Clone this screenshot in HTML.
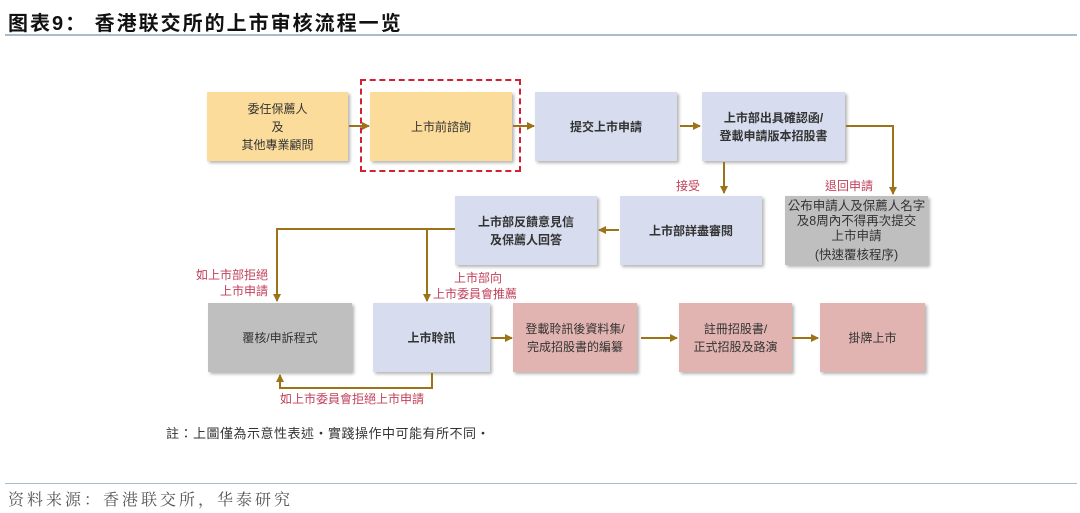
<!DOCTYPE html>
<html><head><meta charset="utf-8"><style>
body{margin:0;width:1080px;height:513px;background:#fff;position:relative;overflow:hidden;font-family:"Liberation Sans","Noto Sans CJK TC",sans-serif;}
.b{position:absolute;display:flex;align-items:center;justify-content:center;text-align:center;font-size:12px;line-height:18px;color:#333;box-shadow:2px 2px 3px rgba(0,0,0,0.3);}
.y{background:#fbdc9b;}.bl{background:#d7ddee;}.g{background:#bfbfbf;}.p{background:#e2b4b1;}
.lbl{position:absolute;font-size:12px;line-height:16px;color:#c0405a;white-space:nowrap;}
</style></head><body>
<div style="position:absolute;left:8px;top:7px;font-size:20px;font-weight:bold;font-family:'Liberation Sans','Noto Sans CJK SC',sans-serif;color:#111;letter-spacing:2px">图表9： 香港联交所的上市审核流程一览</div>
<div style="position:absolute;left:5px;top:34px;width:1072px;height:2px;background:#a8bcd0"></div>
<div style="position:absolute;left:360px;top:79px;border:2px dashed #d42030;box-sizing:border-box;width:161px;height:93px"></div>
<div class="b y" style="left:207px;top:92px;width:141px;height:69px">委任保薦人<br>及<br>其他專業顧問</div>
<div class="b y" style="left:370px;top:92px;width:142px;height:69px">上市前諮詢</div>
<div class="b bl" style="left:535px;top:92px;width:142px;height:69px;font-weight:bold">提交上市申請</div>
<div class="b bl" style="left:702px;top:92px;width:143px;height:69px;font-weight:bold">上市部出具確認函/<br>登載申請版本招股書</div>
<div class="b g" style="left:785px;top:196px;width:143px;height:69px;line-height:15px;font-size:12.5px"><div>公布申請人及保薦人名字<br>及8周內不得再次提交<br>上市申請<div style="margin-top:4px">(快速覆核程序)</div></div></div>
<div class="b bl" style="left:620px;top:196px;width:142px;height:69px;font-weight:bold">上市部詳盡審閱</div>
<div class="b bl" style="left:455px;top:196px;width:142px;height:69px;font-weight:bold">上市部反饋意見信<br>及保薦人回答</div>
<div class="b g" style="left:208px;top:303px;width:144px;height:69px">覆核/申訴程式</div>
<div class="b bl" style="left:373px;top:303px;width:117px;height:69px;font-weight:bold">上市聆訊</div>
<div class="b p" style="left:513px;top:303px;width:124px;height:69px">登載聆訊後資料集/<br>完成招股書的編纂</div>
<div class="b p" style="left:679px;top:303px;width:113px;height:69px">註冊招股書/<br>正式招股及路演</div>
<div class="b p" style="left:820px;top:303px;width:105px;height:69px">掛牌上市</div>
<svg style="position:absolute;left:0;top:0" width="1080" height="513">
<defs><marker id="a" markerWidth="8" markerHeight="8" refX="7" refY="4" orient="auto" markerUnits="userSpaceOnUse"><path d="M0,0 L8,4 L0,8z" fill="#9c7316"/></marker></defs>
<g stroke="#9c7316" stroke-width="2" fill="none" marker-end="url(#a)">
<path d="M349,126 H369"/>
<path d="M513,126 H534"/>
<path d="M680,126 H700"/>
<path d="M724,162 V193"/>
<path d="M846,126 H893 V194"/>
<path d="M619,230 H599"/>
<path d="M455,229 H277 V301"/>
<path d="M427,229 V301"/>
<path d="M491,338 H512"/>
<path d="M641,338 H677"/>
<path d="M792,338 H818"/>
<path d="M432,373 V388 H280 V375"/>
</g></svg>
<div class="lbl" style="left:676px;top:178px">接受</div>
<div class="lbl" style="left:825px;top:178px">退回申請</div>
<div class="lbl" style="left:192px;top:267px;text-align:right;width:76px">如上市部拒絕<br>上市申請</div>
<div class="lbl" style="left:454px;top:270px">上市部向</div>
<div class="lbl" style="left:433px;top:286px">上市委員會推薦</div>
<div class="lbl" style="left:280px;top:391px">如上市委員會拒絕上市申請</div>
<div style="position:absolute;left:166px;top:423px;font-size:13px;color:#333;letter-spacing:0.5px">註：上圖僅為示意性表述・實踐操作中可能有所不同・</div>
<div style="position:absolute;left:5px;top:483px;width:1072px;height:1px;background:#a8bcd0"></div>
<div style="position:absolute;left:8px;top:487px;font-size:16px;color:#555;font-family:'Liberation Serif','Noto Serif CJK SC',serif;letter-spacing:3px">资料来源：香港联交所，华泰研究</div>
</body></html>
